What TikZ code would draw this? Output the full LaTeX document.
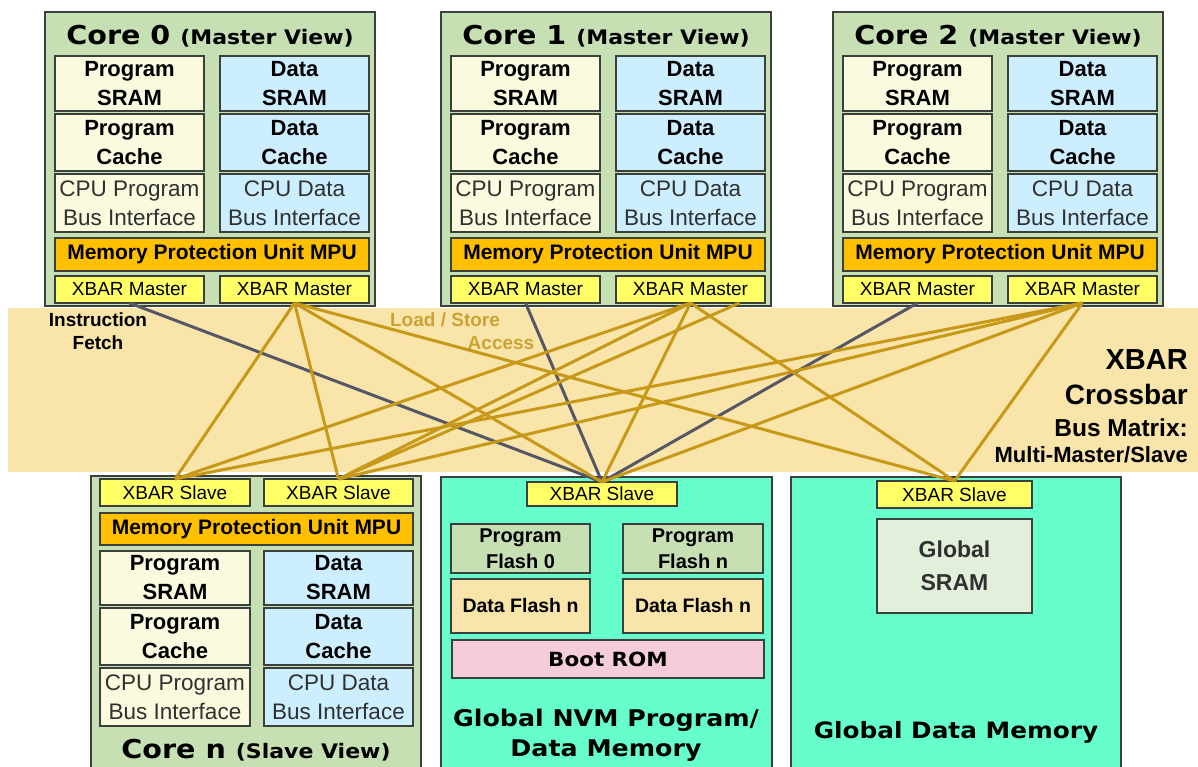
\documentclass[tikz,border=0pt]{standalone}
\usepackage{fontspec}
\setmainfont{Liberation Sans}
\newfontfamily\verd{DejaVu Sans}[FakeStretch=1.1]
\usetikzlibrary{calc}

\definecolor{edge}{RGB}{60,64,60}
\definecolor{coregreen}{RGB}{198,224,180}
\definecolor{progyel}{RGB}{250,250,222}
\definecolor{datablue}{RGB}{204,238,255}
\definecolor{mpuorange}{RGB}{255,192,0}
\definecolor{xyellow}{RGB}{255,255,102}
\definecolor{bandtan}{RGB}{249,229,170}
\definecolor{nvmgreen}{RGB}{102,255,204}
\definecolor{flashgreen}{RGB}{198,224,180}
\definecolor{flashtan}{RGB}{249,229,170}
\definecolor{bootpink}{RGB}{244,204,220}
\definecolor{sramgreen}{RGB}{226,239,218}
\definecolor{busgold}{RGB}{200,152,24}
\definecolor{fetchslate}{RGB}{85,88,100}
\definecolor{lsgold}{RGB}{205,162,52}
\definecolor{softtext}{RGB}{48,48,48}

% box given by its two corners: name, x1, y1, x2, y2, style, text
\newcommand\mkbox[7]{\node[#6, minimum width={(#4)-(#2)}, minimum height={(#5)-(#3)}] (#1) at ({((#2)+(#4))/2},{((#3)+(#5))/2}) {#7};}

\tikzset{
  blk/.style={draw=edge, line width=1.2pt, inner sep=0pt, outer sep=0pt, align=center},
  corebox/.style={blk, fill=coregreen, line width=1.6pt},
  membox/.style={blk, fill=nvmgreen, line width=1.6pt},
  prog/.style={blk, fill=progyel, font=\fontsize{22}{29}\selectfont\bfseries},
  datab/.style={blk, fill=datablue, font=\fontsize{22}{29}\selectfont\bfseries},
  cpup/.style={blk, fill=progyel, text=softtext, font=\fontsize{22.5}{29}\selectfont},
  cpud/.style={blk, fill=datablue, text=softtext, font=\fontsize{22.5}{29}\selectfont},
  mpu/.style={blk, fill=mpuorange, font=\fontsize{21}{25}\selectfont\bfseries},
  xport/.style={blk, fill=xyellow, font=\fontsize{19}{22}\selectfont},
  pflash/.style={blk, fill=flashgreen, font=\fontsize{20}{26}\selectfont\bfseries},
  dflash/.style={blk, fill=flashtan, font=\fontsize{19.5}{24}\selectfont\bfseries},
  boot/.style={blk, fill=bootpink, font=\verd\fontsize{19.5}{24}\selectfont\bfseries},
  gsram/.style={blk, fill=sramgreen, text=softtext, font=\fontsize{23}{33}\selectfont\bfseries},
  title/.style={inner sep=0pt, align=center, font=\verd\bfseries},
  memtitle/.style={inner sep=0pt, align=center, font=\verd\bfseries\fontsize{23}{30}\selectfont},
  busline/.style={draw=busgold, line width=3pt},
  fetchline/.style={draw=fetchslate, line width=3pt},
  fetchnote/.style={inner sep=0pt, align=center, font=\fontsize{19}{23}\selectfont\bfseries},
  lsnote/.style={inner sep=0pt, text=lsgold, font=\fontsize{19}{23}\selectfont\bfseries},
  xbnote/.style={inner sep=0pt, anchor=east, font=\bfseries},
}

% one core seen as bus master: prefix, left edge, core number
\newcommand\mastercore[3]{%
  \mkbox{#1}{#2}{12}{#2+330}{306}{corebox}{}
  \node[title] (#1t) at (#2+165,36) {\fontsize{26}{30}\selectfont Core #3 \fontsize{20}{24}\selectfont(Master View)};
  \mkbox{#1ps}{#2+10}{56}{#2+159}{111}{prog}{Program\\SRAM}
  \mkbox{#1ds}{#2+175}{56}{#2+324}{111}{datab}{Data\\SRAM}
  \mkbox{#1pc}{#2+10}{114}{#2+159}{171}{prog}{Program\\Cache}
  \mkbox{#1dc}{#2+175}{114}{#2+324}{171}{datab}{Data\\Cache}
  \mkbox{#1pb}{#2+10}{174}{#2+159}{232}{cpup}{CPU Program\\Bus Interface}
  \mkbox{#1db}{#2+175}{174}{#2+324}{232}{cpud}{CPU Data\\Bus Interface}
  \mkbox{#1mpu}{#2+10}{238}{#2+324}{271}{mpu}{Memory Protection Unit MPU}
  \mkbox{#1mi}{#2+10}{276}{#2+159}{303}{xport}{XBAR Master}
  \mkbox{#1md}{#2+175}{276}{#2+324}{303}{xport}{XBAR Master}
}

\begin{document}
\begin{tikzpicture}[x=1pt, y=-1pt]
  \useasboundingbox (0,0) rectangle (1198,767);
  \fill[white] (0,0) rectangle (1198,767);

  % crossbar band
  \fill[bandtan] (8,308) rectangle (1198,472);

  % the three master cores
  \mastercore{c0}{45}{0}
  \mastercore{c1}{441}{1}
  \mastercore{c2}{833}{2}

  % core n, slave view
  \mkbox{cn}{91}{476}{421}{775}{corebox}{}
  \mkbox{cns1}{100}{479}{250}{506}{xport}{XBAR Slave}
  \mkbox{cns2}{264}{479}{413}{506}{xport}{XBAR Slave}
  \mkbox{cnmpu}{100}{513}{413}{545}{mpu}{Memory Protection Unit MPU}
  \mkbox{cnps}{100}{551}{250}{605}{prog}{Program\\SRAM}
  \mkbox{cnds}{264}{551}{413}{605}{datab}{Data\\SRAM}
  \mkbox{cnpc}{100}{608}{250}{665}{prog}{Program\\Cache}
  \mkbox{cndc}{264}{608}{413}{665}{datab}{Data\\Cache}
  \mkbox{cnpb}{100}{668}{250}{726}{cpup}{CPU Program\\Bus Interface}
  \mkbox{cndb}{264}{668}{413}{726}{cpud}{CPU Data\\Bus Interface}
  \node[title] (cnt) at (256,750) {\fontsize{26}{30}\selectfont Core n \fontsize{20}{24}\selectfont(Slave View)};

  % global NVM program / data memory
  \mkbox{nvm}{441}{477}{772}{775}{membox}{}
  \mkbox{nvms}{527}{482}{677}{506}{xport}{XBAR Slave}
  \mkbox{pf0}{451}{524}{590}{573}{pflash}{Program\\Flash 0}
  \mkbox{pfn}{623}{524}{763}{573}{pflash}{Program\\Flash n}
  \mkbox{df0}{451}{579}{590}{633}{dflash}{Data Flash n}
  \mkbox{dfn}{623}{579}{763}{633}{dflash}{Data Flash n}
  \mkbox{brom}{452}{640}{764}{678}{boot}{Boot ROM}
  \node[memtitle] (nvmt) at (606,735) {Global NVM Program/\\Data Memory};

  % global data memory
  \mkbox{gd}{791}{477}{1121}{775}{membox}{}
  \mkbox{gds}{877}{481}{1032}{508}{xport}{XBAR Slave}
  \mkbox{gsr}{877}{519}{1032}{613}{gsram}{Global\\SRAM}
  \node[memtitle, font=\verd\bfseries\fontsize{22.5}{28}\selectfont] (gdt) at (956,732) {Global Data Memory};

  % instruction fetch paths
  \foreach \m in {c0mi,c1mi,c2mi}
    \draw[fetchline] (\m.south) -- (nvms.north);

  % load / store paths
  \foreach \m in {c0md,c1md,c2md}
    \foreach \s in {cns1,cns2,nvms,gds}
      \draw[busline] (\m.south) -- (\s.north);
  \coordinate (c1mx) at ($(c1md.south)+(49,0)$);
  \draw[busline] (c1mx) -- (cns2.north);

  % labels in the crossbar band
  \node[fetchnote] (ifetch) at (98,331) {Instruction\\Fetch};
  \node[lsnote] (ls1) at (445,320) {Load / Store};
  \node[lsnote] (ls2) at (501,343) {Access};
  \node[xbnote, font=\bfseries\fontsize{29}{32}\selectfont] (xb1) at (1188,360) {XBAR};
  \node[xbnote, font=\bfseries\fontsize{28}{32}\selectfont] (xb2) at (1188,394) {Crossbar};
  \node[xbnote, font=\bfseries\fontsize{24.5}{28}\selectfont] (xb3) at (1188,428) {Bus Matrix:};
  \node[xbnote, font=\bfseries\fontsize{22}{26}\selectfont] (xb4) at (1188,455) {Multi-Master/Slave};
\end{tikzpicture}
\end{document}
